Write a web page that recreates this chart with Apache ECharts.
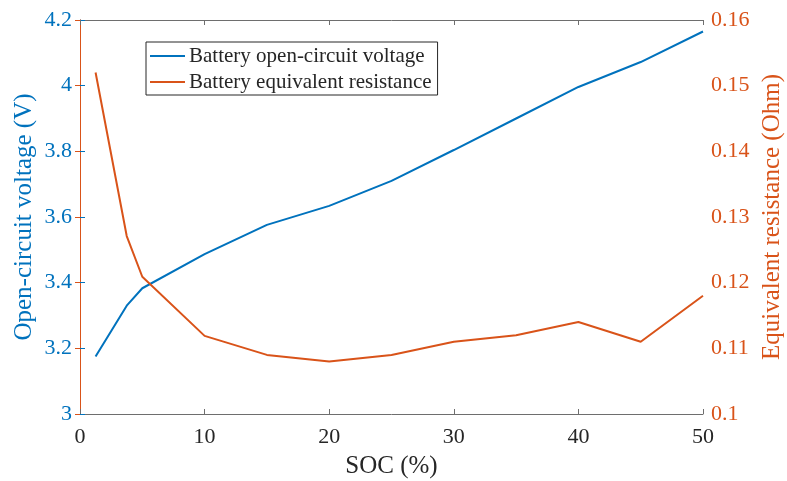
<!DOCTYPE html>
<html>
<head>
<meta charset="utf-8">
<script src="https://cdn.jsdelivr.net/npm/echarts@6/dist/echarts.min.js"></script>
<style>
  html, body { margin: 0; padding: 0; background: #fff; }
  #chart { width: 787px; height: 481px; }
</style>
</head>
<body>
<div id="chart"></div>
<script>
// State of charge sample points (%)
const soc = [1.25, 3.75, 5, 10, 15, 20, 25, 30, 35, 40, 45, 50];
// Open-circuit voltage (V)
const ocv = [3.175, 3.33, 3.383, 3.487, 3.576, 3.634, 3.71, 3.804, 3.90, 3.996, 4.072, 4.165];
// Equivalent resistance (Ohm)
const resistance = [0.152, 0.1271, 0.1209, 0.1119, 0.109, 0.108, 0.109, 0.111, 0.112, 0.114, 0.111, 0.118];

const xTicks = [0, 10, 20, 30, 40, 50];
const leftTicks = [3, 3.2, 3.4, 3.6, 3.8, 4, 4.2];
const rightTicks = [0.1, 0.11, 0.12, 0.13, 0.14, 0.15, 0.16];

const blue = '#0072BD';
const orange = '#D95319';
const axisGray = '#6e6e6e';
const textGray = '#262626';
const font = '"Liberation Serif", "Times New Roman", serif';

const chart = echarts.init(document.getElementById('chart'), null, { renderer: 'canvas' });

chart.setOption({
  animation: false,
  textStyle: { fontFamily: font },
  grid: { left: 80, right: 84, top: 20, bottom: 67, containLabel: false, outerBoundsMode: 'none' },
  legend: {
    orient: 'vertical',
    left: 146,
    top: 42,
    padding: [2, 6, 1, 4],
    itemGap: 2,
    itemWidth: 35,
    itemHeight: 2,
    borderColor: textGray,
    borderWidth: 1,
    backgroundColor: '#fff',
    icon: 'rect',
    textStyle: { fontFamily: font, fontSize: 21, lineHeight: 24, color: textGray, padding: [0, 0, 0, -1] },
    data: ['Battery open-circuit voltage', 'Battery equivalent resistance']
  },
  xAxis: [
    {
      type: 'value',
      min: xTicks[0],
      max: xTicks[xTicks.length - 1],
      interval: 10,
      name: 'SOC (%)',
      nameLocation: 'middle',
      nameGap: 40,
      nameMoveOverlap: false,
      nameTextStyle: { fontFamily: font, fontSize: 25, color: textGray },
      axisLine: { show: true, lineStyle: { color: axisGray, width: 1 } },
      axisTick: { show: true, inside: true, length: 5, lineStyle: { color: axisGray } },
      axisLabel: { fontFamily: font, fontSize: 22, color: textGray, margin: 12 },
      splitLine: { show: false }
    },
    {
      type: 'value',
      position: 'top',
      min: xTicks[0],
      max: xTicks[xTicks.length - 1],
      interval: 10,
      axisLine: { show: true, lineStyle: { color: axisGray, width: 1 } },
      axisTick: { show: true, inside: true, length: 5, lineStyle: { color: axisGray } },
      axisLabel: { show: false },
      splitLine: { show: false }
    }
  ],
  yAxis: [
    {
      type: 'value',
      position: 'left',
      min: leftTicks[0],
      max: leftTicks[leftTicks.length - 1],
      interval: 0.2,
      name: 'Open-circuit voltage (V)',
      nameLocation: 'middle',
      nameGap: 43,
      nameMoveOverlap: false,
      nameTextStyle: { fontFamily: font, fontSize: 25, color: blue },
      axisLine: { show: true, lineStyle: { color: blue, width: 1 } },
      axisTick: { show: true, inside: true, length: 5, lineStyle: { color: blue } },
      axisLabel: {
        fontFamily: font, fontSize: 22, color: blue, margin: 8,
        formatter: v => String(Math.round(v * 10) / 10)
      },
      splitLine: { show: false }
    },
    {
      type: 'value',
      position: 'right',
      min: rightTicks[0],
      max: rightTicks[rightTicks.length - 1],
      interval: 0.01,
      name: 'Equivalent resistance (Ohm)',
      nameLocation: 'middle',
      nameGap: 57,
      nameRotate: 90,
      nameMoveOverlap: false,
      nameTextStyle: { fontFamily: font, fontSize: 25, color: orange },
      axisLine: { show: true, lineStyle: { color: orange, width: 1 } },
      axisTick: { show: true, inside: true, length: 5, lineStyle: { color: orange } },
      axisLabel: {
        fontFamily: font, fontSize: 22, color: orange, margin: 8,
        formatter: v => String(Math.round(v * 100) / 100)
      },
      splitLine: { show: false }
    }
  ],
  series: [
    {
      name: 'Battery open-circuit voltage',
      type: 'line',
      xAxisIndex: 0,
      yAxisIndex: 0,
      data: soc.map((s, i) => [s, ocv[i]]),
      showSymbol: false,
      symbol: 'none',
      lineStyle: { color: blue, width: 2 },
      itemStyle: { color: blue }
    },
    {
      name: 'Battery equivalent resistance',
      type: 'line',
      xAxisIndex: 0,
      yAxisIndex: 1,
      data: soc.map((s, i) => [s, resistance[i]]),
      showSymbol: false,
      symbol: 'none',
      lineStyle: { color: orange, width: 2 },
      itemStyle: { color: orange }
    }
  ]
});
</script>
</body>
</html>
